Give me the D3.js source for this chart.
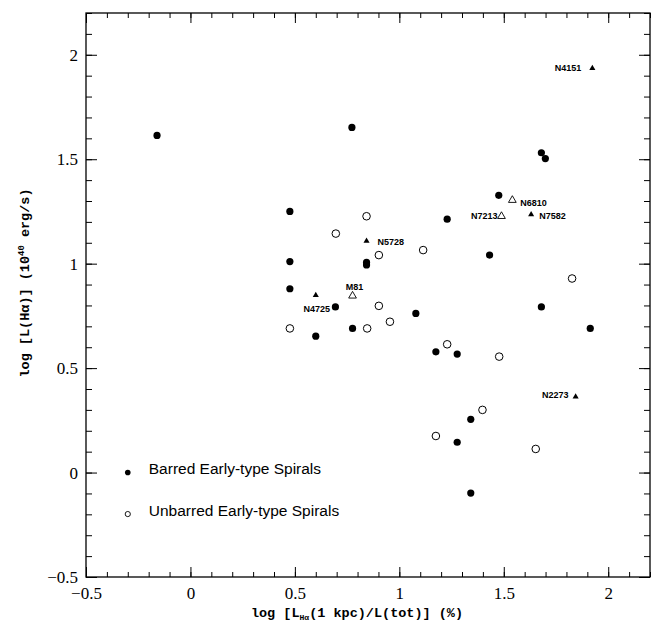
<!DOCTYPE html>
<html>
<head>
<meta charset="utf-8">
<script src="https://cdn.jsdelivr.net/npm/d3@7/dist/d3.min.js"></script>
<style>
  html, body { margin: 0; padding: 0; background: #fff; }
  svg { display: block; }
</style>
</head>
<body>
<div id="chart"></div>
<script>
// Barred early-type spirals (filled circles)
const barredX = [-0.16, 0.773, 0.476, 0.476, 0.476, 1.680, 1.699, 1.476, 1.229, 1.432,
  0.843, 0.843, 1.680, 0.694, 1.079, 0.776, 1.914, 1.175, 1.277, 1.342, 1.277, 1.342, 0.600];
const barredY = [1.614, 1.652, 1.250, 1.010, 0.880, 1.531, 1.503, 1.327, 1.213, 1.041,
  1.006, 0.994, 0.793, 0.793, 0.762, 0.690, 0.690, 0.578, 0.567, 0.255, 0.145, -0.098, 0.653];

// Unbarred early-type spirals (open circles)
const unbarredX = [0.476, 0.843, 0.696, 1.114, 0.902, 1.827, 0.902, 0.846, 0.955, 1.229,
  1.478, 1.398, 1.175, 1.653];
const unbarredY = [0.690, 1.227, 1.144, 1.065, 1.041, 0.929, 0.798, 0.690, 0.722, 0.614,
  0.555, 0.300, 0.175, 0.113];

// Named galaxies, filled triangles
const namedFilled = ['N4151', 'N5728', 'N7582', 'N4725', 'N2273'];
const namedFilledX = [1.924, 0.843, 1.631, 0.600, 1.844];
const namedFilledY = [1.936, 1.108, 1.235, 0.849, 0.363];

// Named galaxies, open triangles
const namedOpen = ['N6810', 'N7213', 'M81'];
const namedOpenX = [1.541, 1.489, 0.776];
const namedOpenY = [1.304, 1.227, 0.846];

const xMajorTicks = [-0.5, 0, 0.5, 1, 1.5, 2];
const yMajorTicks = [-0.5, 0, 0.5, 1, 1.5, 2];
const minorTicks = d3.range(-5, 23).map(i => i / 10);

const legendItems = ['Barred Early-type Spirals', 'Unbarred Early-type Spirals'];

// label placement relative to the marker: [dx, dy, anchor]
const labelPlace = {
  N4151: [-11, 3, 'end'],
  N5728: [11, 4, 'start'],
  N7582: [8, 4, 'start'],
  N4725: [1, 16.5, 'middle'],
  N2273: [-7, 1, 'end'],
  N6810: [8, 6, 'start'],
  N7213: [-4, 3, 'end'],
  M81: [2, -6, 'middle']
};

const width = 659, height = 622;
const margin = { top: 13, right: 9, bottom: 45, left: 86 };
const iw = width - margin.left - margin.right;
const ih = height - margin.top - margin.bottom;

const svg = d3.select('#chart').append('svg')
  .attr('width', width)
  .attr('height', height);

const g = svg.append('g').attr('transform', `translate(${margin.left},${margin.top})`);

const x = d3.scaleLinear().domain([-0.5, 2.2]).range([0, iw]);
const y = d3.scaleLinear().domain([-0.5, 2.2]).range([ih, 0]);

const fmt = d => (d < 0 ? '\u2212' : '') + Math.abs(d);
const tickFont = 'Liberation Serif, serif';

function styleAxis(sel) {
  sel.select('.domain').remove();
  sel.selectAll('.tick line').attr('stroke', '#000').attr('stroke-width', 1);
  sel.selectAll('.tick text')
    .attr('fill', '#000')
    .style('font-family', tickFont)
    .style('font-size', '17px');
}

// minor ticks on all four sides
g.append('g').attr('transform', `translate(0,${ih})`)
  .call(d3.axisBottom(x).tickValues(minorTicks).tickSize(-5).tickFormat(''))
  .call(styleAxis);
g.append('g')
  .call(d3.axisTop(x).tickValues(minorTicks).tickSize(-5).tickFormat(''))
  .call(styleAxis);
g.append('g')
  .call(d3.axisLeft(y).tickValues(minorTicks).tickSize(-6).tickFormat(''))
  .call(styleAxis);
g.append('g').attr('transform', `translate(${iw},0)`)
  .call(d3.axisRight(y).tickValues(minorTicks).tickSize(-6).tickFormat(''))
  .call(styleAxis);

// major ticks
g.append('g').attr('transform', `translate(0,${ih})`)
  .call(d3.axisBottom(x).tickValues(xMajorTicks).tickSize(-10).tickPadding(10).tickFormat(fmt))
  .call(styleAxis);
g.append('g')
  .call(d3.axisTop(x).tickValues(xMajorTicks).tickSize(-10).tickFormat(''))
  .call(styleAxis);
g.append('g')
  .call(d3.axisLeft(y).tickValues(yMajorTicks).tickSize(-11).tickPadding(8).tickFormat(fmt))
  .call(styleAxis);
g.append('g').attr('transform', `translate(${iw},0)`)
  .call(d3.axisRight(y).tickValues(yMajorTicks).tickSize(-11).tickFormat(''))
  .call(styleAxis);

// frame
g.append('rect')
  .attr('width', iw).attr('height', ih)
  .attr('fill', 'none').attr('stroke', '#000').attr('stroke-width', 1.3);

// points
g.selectAll('circle.barred')
  .data(barredX.map((v, i) => [v, barredY[i]]))
  .join('circle')
  .attr('class', 'barred')
  .attr('cx', d => x(d[0])).attr('cy', d => y(d[1]))
  .attr('r', 3.6).attr('fill', '#000');

g.selectAll('circle.unbarred')
  .data(unbarredX.map((v, i) => [v, unbarredY[i]]))
  .join('circle')
  .attr('class', 'unbarred')
  .attr('cx', d => x(d[0])).attr('cy', d => y(d[1]))
  .attr('r', 3.8).attr('fill', 'none').attr('stroke', '#000').attr('stroke-width', 1);

const triFilled = d3.symbol().type(d3.symbolTriangle).size(16);
const triOpen = d3.symbol().type(d3.symbolTriangle).size(26);

const named = namedFilled.map((n, i) => ({ name: n, x: namedFilledX[i], y: namedFilledY[i], filled: true }))
  .concat(namedOpen.map((n, i) => ({ name: n, x: namedOpenX[i], y: namedOpenY[i], filled: false })));

g.selectAll('path.tri')
  .data(named)
  .join('path')
  .attr('class', 'tri')
  .attr('transform', d => `translate(${x(d.x)},${y(d.y)})`)
  .attr('d', d => d.filled ? triFilled() : triOpen())
  .attr('fill', d => d.filled ? '#000' : 'none')
  .attr('stroke', d => d.filled ? 'none' : '#000')
  .attr('stroke-width', 0.9);

g.selectAll('text.name')
  .data(named)
  .join('text')
  .attr('class', 'name')
  .attr('x', d => x(d.x) + labelPlace[d.name][0])
  .attr('y', d => y(d.y) + labelPlace[d.name][1])
  .attr('text-anchor', d => labelPlace[d.name][2])
  .style('font-family', 'Liberation Sans, Arial, sans-serif')
  .style('font-weight', 'bold')
  .style('font-size', '9px')
  .text(d => d.name);

// legend
const legend = g.append('g').attr('transform', `translate(${x(-0.3)},${y(0)})`);
legend.append('circle').attr('cx', 0).attr('cy', 0).attr('r', 2.8).attr('fill', '#000');
legend.append('circle').attr('cx', 0).attr('cy', 41.5).attr('r', 2.6)
  .attr('fill', 'none').attr('stroke', '#000').attr('stroke-width', 0.9);
legend.selectAll('text')
  .data(legendItems)
  .join('text')
  .attr('x', 21)
  .attr('y', (d, i) => 1.5 + i * 42)
  .style('font-family', 'Liberation Sans, Arial, sans-serif')
  .style('font-size', '15.5px')
  .text(d => d);

// axis titles
const titleFont = 'Liberation Mono, DejaVu Sans Mono, monospace';
const xt = svg.append('text')
  .attr('x', 357)
  .attr('y', 617)
  .attr('text-anchor', 'middle')
  .style('font-family', titleFont)
  .style('font-weight', 'bold')
  .style('font-size', '13.5px');
xt.append('tspan').text('log [L');
xt.append('tspan').attr('dy', 3).style('font-size', '8px').text('H\u03b1');
xt.append('tspan').attr('dy', -3).text('(1 kpc)/L(tot)] (%)');

const yt = svg.append('text')
  .attr('transform', `translate(29,${283}) rotate(-90)`)
  .attr('text-anchor', 'middle')
  .style('font-family', titleFont)
  .style('font-weight', 'bold')
  .style('font-size', '13.5px');
yt.append('tspan').text('log [L(H\u03b1)] (10');
yt.append('tspan').attr('dy', -5).style('font-size', '9px').text('40');
yt.append('tspan').attr('dy', 5).text(' erg/s)');
</script>
</body>
</html>
